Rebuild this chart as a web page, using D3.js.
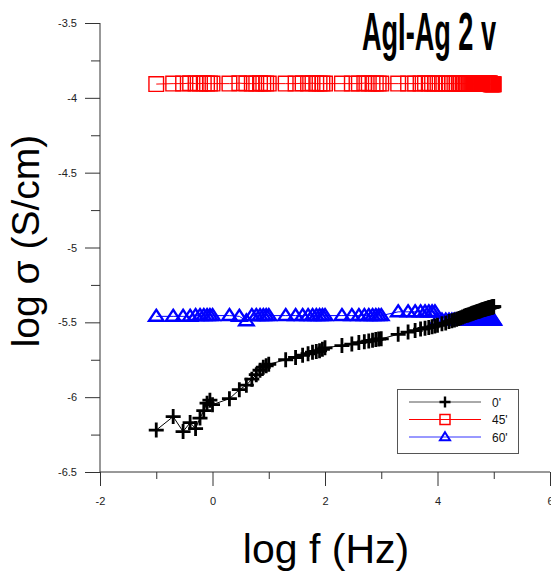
<!DOCTYPE html>
<html>
<head>
<meta charset="utf-8">
<script src="https://cdn.jsdelivr.net/npm/d3@7/dist/d3.min.js"></script>
<style>
  html, body { margin: 0; padding: 0; background: #fff; }
  svg { display: block; }
  text { font-family: Arial, "Liberation Sans", sans-serif; }
</style>
</head>
<body>
<svg id="chart" width="551" height="574"></svg>
<script>
// ---- data ----
const logFreq = [
  -1.000, -0.699, -0.523, -0.398, -0.301, -0.222, -0.155, -0.097, -0.046,
   0.000,  0.301,  0.477,  0.602,  0.699,  0.778,  0.845,  0.903,  0.954,
   1.000,  1.301,  1.477,  1.602,  1.699,  1.778,  1.845,  1.903,  1.954,
   2.000,  2.301,  2.477,  2.602,  2.699,  2.778,  2.845,  2.903,  2.954,
   3.000,  3.301,  3.477,  3.602,  3.699,  3.778,  3.845,  3.903,  3.954,
   4.000,  4.079,  4.146,  4.204,  4.255,  4.301,  4.342,  4.380,  4.415,  4.447,
   4.477,  4.505,  4.531,  4.556,  4.580,  4.602,  4.623,  4.643,  4.663,  4.681,
   4.699,  4.716,  4.732,  4.748,  4.763,  4.778,  4.792,  4.806,  4.820,  4.833,
   4.845,  4.857,  4.869,  4.881,  4.892,  4.903,  4.914,  4.924,  4.934,  4.944,
   4.954,  4.964,  4.973,  4.982,  4.991,  5.000
];

const sigma0 = [
  -6.22, -6.13, -6.23, -6.17, -6.21, -6.14, -6.09, -6.04, -6.02,
  -6.05, -6.01, -5.95, -5.92, -5.88, -5.85, -5.82, -5.80, -5.79,
  -5.78, -5.75, -5.735, -5.72, -5.71, -5.70, -5.695, -5.69, -5.68,
  -5.67, -5.655, -5.645, -5.635, -5.63, -5.625, -5.62, -5.615, -5.612,
  -5.61, -5.58, -5.565, -5.555, -5.545, -5.54, -5.535, -5.53, -5.525,
  -5.52, -5.51, -5.505, -5.495, -5.49, -5.485, -5.48, -5.475, -5.47, -5.465,
  -5.46, -5.455, -5.452, -5.449, -5.446, -5.443, -5.44, -5.437, -5.435, -5.432,
  -5.43, -5.428, -5.426, -5.424, -5.422, -5.42, -5.418, -5.416, -5.415, -5.413,
  -5.412, -5.41, -5.409, -5.408, -5.406, -5.405, -5.404, -5.403, -5.402, -5.401,
  -5.40, -5.399, -5.398, -5.397, -5.396, -5.395
];

const sigma45 = [
  -3.908, -3.905, -3.905, -3.902, -3.905, -3.905, -3.903, -3.905, -3.905,
  -3.905, -3.905, -3.902, -3.905, -3.905, -3.905, -3.902, -3.905, -3.905,
  -3.905, -3.905, -3.905, -3.903, -3.905, -3.902, -3.905, -3.905, -3.905,
  -3.905, -3.905, -3.905, -3.905, -3.902, -3.905, -3.905, -3.905, -3.905,
  -3.905, -3.905, -3.905, -3.905, -3.905, -3.902, -3.905, -3.905, -3.905,
  -3.905, -3.905, -3.905, -3.905, -3.905, -3.905, -3.905, -3.905, -3.905, -3.905,
  -3.905, -3.905, -3.905, -3.905, -3.905, -3.905, -3.905, -3.905, -3.905, -3.905,
  -3.905, -3.905, -3.905, -3.905, -3.905, -3.905, -3.905, -3.905, -3.905, -3.905,
  -3.905, -3.905, -3.905, -3.905, -3.905, -3.905, -3.905, -3.905, -3.905, -3.91,
  -3.91, -3.91, -3.91, -3.91, -3.91, -3.91
];

const sigma60 = [
  -5.46, -5.46, -5.46, -5.46, -5.455, -5.455, -5.455, -5.455, -5.455,
  -5.455, -5.455, -5.46, -5.49, -5.455, -5.455, -5.455, -5.455, -5.455,
  -5.455, -5.455, -5.455, -5.455, -5.455, -5.455, -5.455, -5.455, -5.455,
  -5.455, -5.455, -5.455, -5.455, -5.455, -5.455, -5.455, -5.455, -5.455,
  -5.455, -5.43, -5.43, -5.43, -5.43, -5.43, -5.43, -5.43, -5.43,
  -5.485, -5.485, -5.485, -5.485, -5.485, -5.485, -5.485, -5.485, -5.485, -5.485,
  -5.485, -5.485, -5.485, -5.485, -5.485, -5.485, -5.485, -5.485, -5.485, -5.485,
  -5.485, -5.485, -5.485, -5.485, -5.485, -5.485, -5.485, -5.485, -5.485, -5.485,
  -5.485, -5.485, -5.485, -5.485, -5.485, -5.485, -5.485, -5.485, -5.485, -5.485,
  -5.485, -5.485, -5.485, -5.485, -5.485, -5.485
];

const xTicks = [-2, 0, 2, 4, 6];
const xMinorTicks = [-1, 1, 3, 5];
const yTicks = [-3.5, -4, -4.5, -5, -5.5, -6, -6.5];
const yMinorTicks = [-3.75, -4.25, -4.75, -5.25, -5.75, -6.25];
const seriesNames = ["0'", "45'", "60'"];

// ---- chart ----
const svg = d3.select("#chart");
const x = d3.scaleLinear().domain([-2, 6]).range([100, 550]);
const y = d3.scaleLinear().domain([-6.5, -3.5]).range([472, 23]);
const axisColor = "#333";

// axes
const yAxis = svg.append("g").attr("transform", "translate(100,0)")
  .call(d3.axisLeft(y).tickValues(yTicks).tickSize(15).tickPadding(8)
    .tickFormat(d => String(d)));
yAxis.select(".domain").attr("stroke", axisColor).attr("d", `M0,${y(-3.5)}V${y(-6.5)}`);
yAxis.selectAll(".tick line").attr("stroke", axisColor);
yAxis.selectAll(".tick text").attr("font-size", 11).attr("fill", "#222")
  .attr("font-family", "Arial, 'Liberation Sans', sans-serif");
svg.append("g").attr("transform", "translate(100,0)")
  .call(d3.axisLeft(y).tickValues(yMinorTicks).tickSize(9).tickFormat(""))
  .call(g => g.select(".domain").remove())
  .selectAll(".tick line").attr("stroke", axisColor);

const xAxis = svg.append("g").attr("transform", "translate(0,472)")
  .call(d3.axisBottom(x).tickValues(xTicks).tickSize(14).tickPadding(11)
    .tickFormat(d => String(d)));
xAxis.select(".domain").attr("stroke", axisColor).attr("d", `M${x(-2)},0H${x(6)}`);
xAxis.selectAll(".tick line").attr("stroke", axisColor);
xAxis.selectAll(".tick text").attr("font-size", 11).attr("fill", "#222")
  .attr("font-family", "Arial, 'Liberation Sans', sans-serif");
svg.append("g").attr("transform", "translate(0,472)")
  .call(d3.axisBottom(x).tickValues(xMinorTicks).tickSize(7).tickFormat(""))
  .call(g => g.select(".domain").remove())
  .selectAll(".tick line").attr("stroke", axisColor);

// axis titles
svg.append("text").attr("x", 326).attr("y", 563).attr("text-anchor", "middle")
  .attr("font-size", 41).attr("fill", "#000").text("log f (Hz)");
svg.append("text").attr("transform", "translate(39,241) rotate(-90)")
  .attr("text-anchor", "middle").attr("font-size", 39).attr("fill", "#000")
  .text("log σ (S/cm)");

// chart title
svg.append("text").attr("x", 362).attr("y", 50)
  .attr("font-size", 54).attr("font-weight", "bold").attr("fill", "#000")
  .attr("textLength", 134).attr("lengthAdjust", "spacingAndGlyphs")
  .text("AgI-Ag 2 v");

// series
const crossPath = s => `M${-s},0H${s}M0,${-s}V${s}`;
const squarePath = s => `M${-s},${-s}H${s}V${s}H${-s}Z`;
const triPath = (w, h) => `M0,${-h * 0.6}L${w},${h * 0.4}H${-w}Z`;

const series = [
  { vals: sigma45, color: "#ff0000", path: squarePath(7.3), sw: 1.4, lw: 1 },
  { vals: sigma60, color: "#0000ff", path: triPath(7.3, 11), sw: 2.3, lw: 1 },
  { vals: sigma0, color: "#000000", path: crossPath(7.5), sw: 2.8, lw: 1 }
];

const line = d3.line().x(d => x(d[0])).y(d => y(d[1]));
series.forEach(s => {
  const pts = logFreq.map((f, i) => [f, s.vals[i]]);
  svg.append("path").datum(pts).attr("d", line)
    .attr("fill", "none").attr("stroke", s.color).attr("stroke-width", s.lw);
  svg.append("g").selectAll("path").data(pts).join("path")
    .attr("transform", d => `translate(${x(d[0])},${y(d[1])})`)
    .attr("d", s.path).attr("fill", "none")
    .attr("stroke", s.color).attr("stroke-width", s.sw);
});

// legend
const leg = svg.append("g");
leg.append("rect").attr("x", 397.5).attr("y", 389.5).attr("width", 121).attr("height", 64)
  .attr("fill", "#fff").attr("stroke", "#555").attr("stroke-width", 1);
const legItems = [
  { name: seriesNames[0], color: "#000", path: crossPath(5.5), sw: 2.4, lineColor: "#555" },
  { name: seriesNames[1], color: "#ff0000", path: squarePath(5), sw: 1.5, lineColor: "#ff0000" },
  { name: seriesNames[2], color: "#0000ff", path: triPath(5, 8), sw: 2, lineColor: "#3333ff" }
];
legItems.forEach((it, i) => {
  const ly = 402 + i * 17.5;
  leg.append("line").attr("x1", 409).attr("x2", 481).attr("y1", ly).attr("y2", ly)
    .attr("stroke", it.lineColor).attr("stroke-width", 1);
  leg.append("path").attr("transform", `translate(445,${ly})`).attr("d", it.path)
    .attr("fill", "none").attr("stroke", it.color).attr("stroke-width", it.sw);
  leg.append("text").attr("x", 492).attr("y", ly + 4.5).attr("font-size", 12)
    .attr("fill", "#111").text(it.name);
});
</script>
</body>
</html>
